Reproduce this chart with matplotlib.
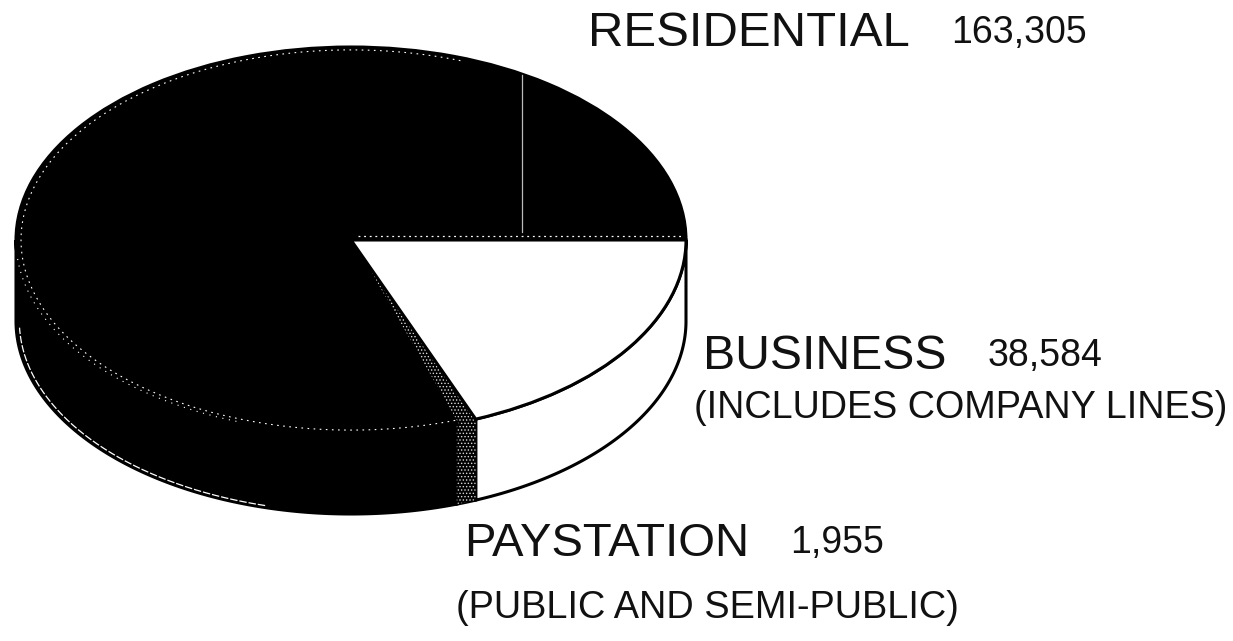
import numpy as np
import matplotlib
matplotlib.use("Agg")
import matplotlib.pyplot as plt

categories = ["RESIDENTIAL", "BUSINESS", "PAYSTATION"]
values = [163305, 38584, 1955]
value_labels = ["163,305", "38,584", "1,955"]
notes = ["", "(INCLUDES COMPANY LINES)", "(PUBLIC AND SEMI-PUBLIC)"]
face_colors = ["#000000", "#ffffff", "#000000"]

W, H = 1233, 641
CX, CY, RX, RY, DEPTH = 351, 240, 335, 193, 81
plt.rcParams["font.family"] = ["Liberation Sans", "DejaVu Sans"]
plt.rcParams["hatch.linewidth"] = 0.6

fig = plt.figure(figsize=(W / 100, H / 100), dpi=100, facecolor="white")
ax = fig.add_axes([0, 0, 1, 1])
D = DEPTH / RY

order = [1, 2, 0]
shares = np.array([values[i] for i in order], float)
edges = np.concatenate([[0], np.cumsum(shares) / shares.sum() * 360])

# Side wall: one band per slice on the front half of the ellipse
for k, i in enumerate(order):
    a0, a1 = edges[k], min(edges[k + 1], 180)
    t = np.radians(np.linspace(a0, a1, 200))
    x, y = np.cos(t), -np.sin(t)
    ax.fill(np.r_[x, x[::-1]], np.r_[y, y[::-1] - D],
            facecolor=face_colors[i], edgecolor="black", linewidth=2.2, zorder=2)
    if i == 2:
        ax.fill(np.r_[x, x[::-1]], np.r_[y, y[::-1] - D], facecolor="none",
                edgecolor="#d8d8d8", hatch=".....", linewidth=0, zorder=2.5)

# Top face from the library's pie
wedges, _ = ax.pie([values[i] for i in order],
                   colors=[face_colors[i] for i in order],
                   startangle=0, counterclock=False, radius=1, frame=True,
                   wedgeprops=dict(edgecolor="black", linewidth=2.2, zorder=3))
wedges[0].set_zorder(3.2)
wedges[1].set_hatch(".....")
wedges[1].set_edgecolor("#d8d8d8")
wedges[1].set_linewidth(0)

# Scan speckle on the dark slice: rim highlights and the faint seams
t = np.radians(np.linspace(edges[2], 290, 500))
ax.plot(0.985 * np.cos(t), -0.985 * np.sin(t), color="white", lw=0.8,
        ls=(0, (1.5, 4)), zorder=4)
t2 = np.radians(np.linspace(110, 176, 200))
ax.plot(np.cos(t2), -np.sin(t2), color="white", lw=0.8, ls=(0, (1, 5)), zorder=4)
t3 = np.radians(np.linspace(105, 178, 200))
ax.plot(0.99 * np.cos(t3), -0.99 * np.sin(t3) - D, color="white", lw=0.9,
        ls=(0, (6, 1.5)), zorder=4)
ax.plot([(522 - CX) / RX] * 2, [(CY - 75) / RY, (CY - 232) / RY], color="#bbbbbb",
        lw=0.9, zorder=4)
ax.plot([(358 - CX) / RX, (684 - CX) / RX], [(CY - 236) / RY] * 2, color="white",
        lw=0.9, ls=(0, (1.5, 3)), zorder=4)

ax.set_aspect("auto")
ax.set_xlim(-CX / RX, (W - CX) / RX)
ax.set_ylim((CY - H) / RY, CY / RY)
ax.axis("off")

def put(px, py, s, size):
    fig.text(px / W, 1 - py / H, s, fontsize=size, color="#111111", ha="left", va="baseline")

put(588, 46, categories[0], 35.4)
put(951, 43, value_labels[0], 27)
put(703, 369, categories[1], 34.7)
put(988, 366, value_labels[1], 27)
put(694, 418, notes[1], 27.2)
put(464, 556, categories[2], 34)
put(790, 553, value_labels[2], 27)
put(456, 618, notes[2], 27.3)

fig.savefig("out.png", dpi=100)
